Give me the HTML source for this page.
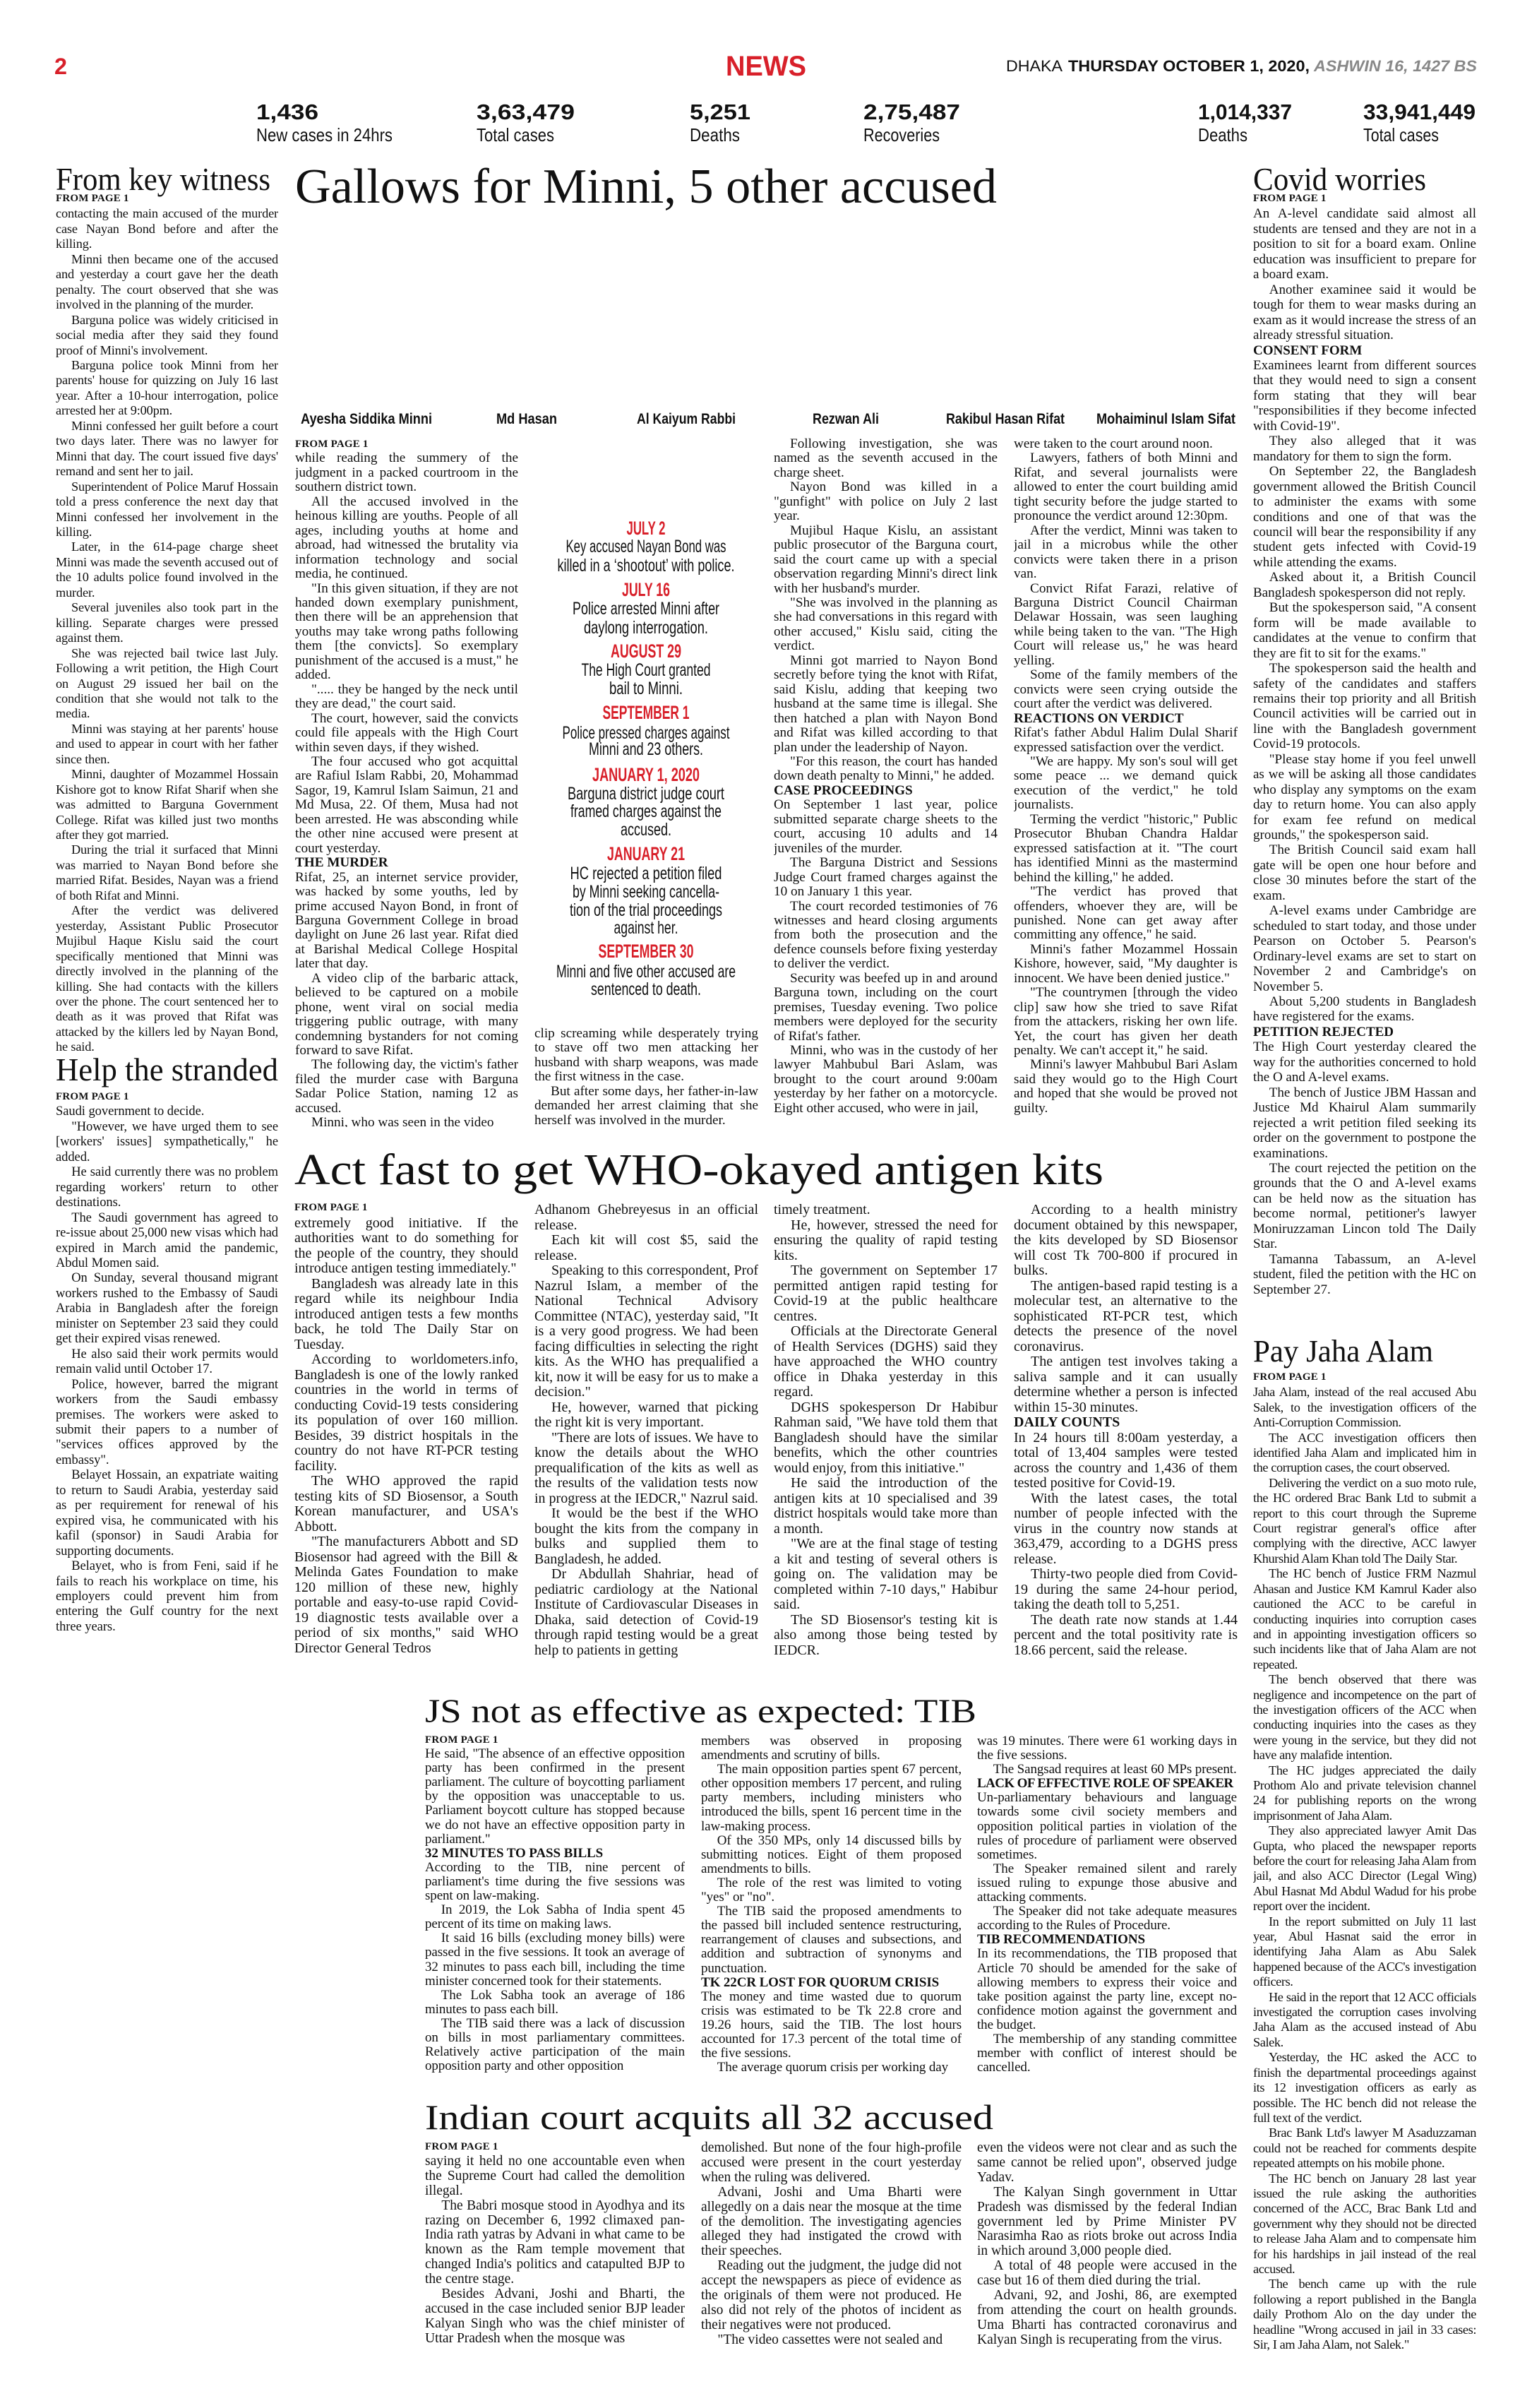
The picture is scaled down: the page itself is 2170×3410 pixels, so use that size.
<!DOCTYPE html>
<html><head><meta charset="utf-8">
<style>
html,body{margin:0;padding:0;background:#fff;}
body{width:2170px;height:3410px;position:relative;overflow:hidden;font-family:"Liberation Serif",serif;color:#111;}
.c{position:absolute;overflow:hidden;text-align:justify;}
.c p{margin:0;text-indent:1.2em;}
.c p.ni{text-indent:0;}
.c .fp{font-size:15px;font-weight:bold;text-indent:0;letter-spacing:0.2px;}
.c .sh{font-weight:bold;text-indent:0;text-align:left;}
.m{font-size:19.2px;line-height:20.45px;}
.l{font-size:18.3px;line-height:21.45px;letter-spacing:-0.15px;}
.l2{font-size:18.5px;line-height:21.45px;letter-spacing:-0.05px;}
.r{font-size:19px;line-height:21.45px;}
.r2{font-size:18.3px;line-height:21.4px;letter-spacing:-0.4px;}
.a{font-size:20px;line-height:21.5px;}
.j{font-size:19px;line-height:20.1px;letter-spacing:-0.1px;}
.i{font-size:19.5px;line-height:20.9px;}
svg{position:absolute;left:0;top:0;}
</style></head><body>

<svg width="2170" height="3410" viewBox="0 0 2170 3410">
<g font-family="Liberation Sans, sans-serif">
<text x="77" y="105" font-size="32" font-weight="bold" fill="#d8202a" textLength="18" lengthAdjust="spacingAndGlyphs">2</text>
<text x="1028" y="107" font-size="40" font-weight="bold" fill="#d8202a" textLength="114" lengthAdjust="spacingAndGlyphs">NEWS</text>
<text x="1425" y="101" font-size="22" fill="#111" textLength="80" lengthAdjust="spacingAndGlyphs">DHAKA</text>
<text x="1513" y="101" font-size="22" font-weight="bold" fill="#111" textLength="342" lengthAdjust="spacingAndGlyphs">THURSDAY OCTOBER 1, 2020,</text>
<text x="1861" y="101" font-size="22" font-weight="bold" font-style="italic" fill="#888" textLength="231" lengthAdjust="spacingAndGlyphs">ASHWIN 16, 1427 BS</text>

<g font-weight="bold" font-size="31" fill="#111">
<text x="363" y="169" textLength="88" lengthAdjust="spacingAndGlyphs">1,436</text>
<text x="675" y="169" textLength="139" lengthAdjust="spacingAndGlyphs">3,63,479</text>
<text x="977" y="169" textLength="86" lengthAdjust="spacingAndGlyphs">5,251</text>
<text x="1223" y="169" textLength="137" lengthAdjust="spacingAndGlyphs">2,75,487</text>
<text x="1697" y="169" textLength="133" lengthAdjust="spacingAndGlyphs">1,014,337</text>
<text x="1931" y="169" textLength="159" lengthAdjust="spacingAndGlyphs">33,941,449</text>
</g>
<g font-size="26" fill="#111">
<text x="363" y="200" textLength="193" lengthAdjust="spacingAndGlyphs">New cases in 24hrs</text>
<text x="675" y="200" textLength="110" lengthAdjust="spacingAndGlyphs">Total cases</text>
<text x="977" y="200" textLength="71" lengthAdjust="spacingAndGlyphs">Deaths</text>
<text x="1223" y="200" textLength="108" lengthAdjust="spacingAndGlyphs">Recoveries</text>
<text x="1697" y="200" textLength="70" lengthAdjust="spacingAndGlyphs">Deaths</text>
<text x="1931" y="200" textLength="107" lengthAdjust="spacingAndGlyphs">Total cases</text>
</g>

<g font-weight="bold" font-size="21" fill="#111">
<text x="426" y="600" textLength="186" lengthAdjust="spacingAndGlyphs">Ayesha Siddika Minni</text>
<text x="703" y="600" textLength="86" lengthAdjust="spacingAndGlyphs">Md Hasan</text>
<text x="902" y="600" textLength="140" lengthAdjust="spacingAndGlyphs">Al Kaiyum Rabbi</text>
<text x="1151" y="600" textLength="94" lengthAdjust="spacingAndGlyphs">Rezwan Ali</text>
<text x="1340" y="600" textLength="168" lengthAdjust="spacingAndGlyphs">Rakibul Hasan Rifat</text>
<text x="1553" y="600" textLength="197" lengthAdjust="spacingAndGlyphs">Mohaiminul Islam Sifat</text>
</g>

<g text-anchor="middle">
<g font-weight="bold" font-size="27" fill="#d8202a">
<text x="915" y="757" textLength="55" lengthAdjust="spacingAndGlyphs">JULY 2</text>
<text x="915" y="844" textLength="68" lengthAdjust="spacingAndGlyphs">JULY 16</text>
<text x="915" y="931" textLength="100" lengthAdjust="spacingAndGlyphs">AUGUST 29</text>
<text x="915" y="1018" textLength="123" lengthAdjust="spacingAndGlyphs">SEPTEMBER 1</text>
<text x="915" y="1106" textLength="152" lengthAdjust="spacingAndGlyphs">JANUARY 1, 2020</text>
<text x="915" y="1218" textLength="110" lengthAdjust="spacingAndGlyphs">JANUARY 21</text>
<text x="915" y="1356" textLength="135" lengthAdjust="spacingAndGlyphs">SEPTEMBER 30</text>
</g>
<g font-size="25" fill="#111">
<text x="915" y="782" textLength="227" lengthAdjust="spacingAndGlyphs">Key accused Nayan Bond was</text>
<text x="915" y="809" textLength="251" lengthAdjust="spacingAndGlyphs">killed in a ‘shootout’ with police.</text>
<text x="915" y="870" textLength="208" lengthAdjust="spacingAndGlyphs">Police arrested Minni after</text>
<text x="915" y="897" textLength="176" lengthAdjust="spacingAndGlyphs">daylong interrogation.</text>
<text x="915" y="957" textLength="183" lengthAdjust="spacingAndGlyphs">The High Court granted</text>
<text x="915" y="983" textLength="104" lengthAdjust="spacingAndGlyphs">bail to Minni.</text>
<text x="915" y="1046" textLength="237" lengthAdjust="spacingAndGlyphs">Police pressed charges against</text>
<text x="915" y="1069" textLength="162" lengthAdjust="spacingAndGlyphs">Minni and 23 others.</text>
<text x="915" y="1132" textLength="222" lengthAdjust="spacingAndGlyphs">Barguna district judge court</text>
<text x="915" y="1157" textLength="214" lengthAdjust="spacingAndGlyphs">framed charges against the</text>
<text x="915" y="1183" textLength="72" lengthAdjust="spacingAndGlyphs">accused.</text>
<text x="915" y="1245" textLength="215" lengthAdjust="spacingAndGlyphs">HC rejected a petition filed</text>
<text x="915" y="1271" textLength="208" lengthAdjust="spacingAndGlyphs">by Minni seeking cancella-</text>
<text x="915" y="1297" textLength="216" lengthAdjust="spacingAndGlyphs">tion of the trial proceedings</text>
<text x="915" y="1322" textLength="91" lengthAdjust="spacingAndGlyphs">against her.</text>
<text x="915" y="1384" textLength="254" lengthAdjust="spacingAndGlyphs">Minni and five other accused are</text>
<text x="915" y="1409" textLength="156" lengthAdjust="spacingAndGlyphs">sentenced to death.</text>
</g>
</g>
</g>

<g font-family="Liberation Serif, serif" fill="#111">
<text x="79" y="269" font-size="46" textLength="304" lengthAdjust="spacingAndGlyphs">From key witness</text>
<text x="418" y="287" font-size="70" textLength="994" lengthAdjust="spacingAndGlyphs">Gallows for Minni, 5 other accused</text>
<text x="1775" y="269" font-size="46" textLength="245" lengthAdjust="spacingAndGlyphs">Covid worries</text>
<text x="79" y="1530" font-size="46" textLength="315" lengthAdjust="spacingAndGlyphs">Help the stranded</text>
<text x="417" y="1677" font-size="62" textLength="1146" lengthAdjust="spacingAndGlyphs">Act fast to get WHO-okayed antigen kits</text>
<text x="1775" y="1928" font-size="44" textLength="255" lengthAdjust="spacingAndGlyphs">Pay Jaha Alam</text>
<text x="602" y="2439" font-size="48" textLength="781" lengthAdjust="spacingAndGlyphs">JS not as effective as expected: TIB</text>
<text x="602" y="3015" font-size="50" textLength="805" lengthAdjust="spacingAndGlyphs">Indian court acquits all 32 accused</text>
</g>
</svg>

<!-- Left column: From key witness -->
<div class="c l" style="left:79px;top:271px;width:315px;height:1222px;">
<p class="fp">FROM PAGE 1</p>
<p class="ni">contacting the main accused of the murder case Nayan Bond before and after the killing.</p>
<p>Minni then became one of the accused and yesterday a court gave her the death penalty. The court observed that she was involved in the planning of the murder.</p>
<p>Barguna police was widely criticised in social media after they said they found proof of Minni's involvement.</p>
<p>Barguna police took Minni from her parents' house for quizzing on July 16 last year. After a 10-hour interrogation, police arrested her at 9:00pm.</p>
<p>Minni confessed her guilt before a court two days later. There was no lawyer for Minni that day. The court issued five days' remand and sent her to jail.</p>
<p>Superintendent of Police Maruf Hossain told a press conference the next day that Minni confessed her involvement in the killing.</p>
<p>Later, in the 614-page charge sheet Minni was made the seventh accused out of the 10 adults police found involved in the murder.</p>
<p>Several juveniles also took part in the killing. Separate charges were pressed against them.</p>
<p>She was rejected bail twice last July. Following a writ petition, the High Court on August 29 issued her bail on the condition that she would not talk to the media.</p>
<p>Minni was staying at her parents' house and used to appear in court with her father since then.</p>
<p>Minni, daughter of Mozammel Hossain Kishore got to know Rifat Sharif when she was admitted to Barguna Government College. Rifat was killed just two months after they got married.</p>
<p>During the trial it surfaced that Minni was married to Nayan Bond before she married Rifat. Besides, Nayan was a friend of both Rifat and Minni.</p>
<p>After the verdict was delivered yesterday, Assistant Public Prosecutor Mujibul Haque Kislu said the court specifically mentioned that Minni was directly involved in the planning of the killing. She had contacts with the killers over the phone. The court sentenced her to death as it was proved that Rifat was attacked by the killers led by Nayan Bond, he said.</p>
</div>

<!-- Help the stranded -->
<div class="c l2" style="left:79px;top:1543px;width:315px;height:820px;">
<p class="fp">FROM PAGE 1</p>
<p class="ni">Saudi government to decide.</p>
<p>"However, we have urged them to see [workers' issues] sympathetically," he added.</p>
<p>He said currently there was no problem regarding workers' return to other destinations.</p>
<p>The Saudi government has agreed to re-issue about 25,000 new visas which had expired in March amid the pandemic, Abdul Momen said.</p>
<p>On Sunday, several thousand migrant workers rushed to the Embassy of Saudi Arabia in Bangladesh after the foreign minister on September 23 said they could get their expired visas renewed.</p>
<p>He also said their work permits would remain valid until October 17.</p>
<p>Police, however, barred the migrant workers from the Saudi embassy premises. The workers were asked to submit their papers to a number of "services offices approved by the embassy".</p>
<p>Belayet Hossain, an expatriate waiting to return to Saudi Arabia, yesterday said as per requirement for renewal of his expired visa, he communicated with his kafil (sponsor) in Saudi Arabia for supporting documents.</p>
<p>Belayet, who is from Feni, said if he fails to reach his workplace on time, his employers could prevent him from entering the Gulf country for the next three years.</p>
</div>

<!-- Main story columns -->
<div class="c m" style="left:418px;top:619px;width:316px;height:977px;">
<p class="fp">FROM PAGE 1</p>
<p class="ni">while reading the summery of the judgment in a packed courtroom in the southern district town.</p>
<p>All the accused involved in the heinous killing are youths. People of all ages, including youths at home and abroad, had witnessed the brutality via information technology and social media, he continued.</p>
<p>"In this given situation, if they are not handed down exemplary punishment, then there will be an apprehension that youths may take wrong paths following them [the convicts]. So exemplary punishment of the accused is a must," he added.</p>
<p>"..... they be hanged by the neck until they are dead," the court said.</p>
<p>The court, however, said the convicts could file appeals with the High Court within seven days, if they wished.</p>
<p>The four accused who got acquittal are Rafiul Islam Rabbi, 20, Mohammad Sagor, 19, Kamrul Islam Saimun, 21 and Md Musa, 22. Of them, Musa had not been arrested. He was absconding while the other nine accused were present at court yesterday.</p>
<p class="sh">THE MURDER</p>
<p class="ni">Rifat, 25, an internet service provider, was hacked by some youths, led by prime accused Nayon Bond, in front of Barguna Government College in broad daylight on June 26 last year. Rifat died at Barishal Medical College Hospital later that day.</p>
<p>A video clip of the barbaric attack, believed to be captured on a mobile phone, went viral on social media triggering public outrage, with many condemning bystanders for not coming forward to save Rifat.</p>
<p>The following day, the victim's father filed the murder case with Barguna Sadar Police Station, naming 12 as accused.</p>
<p>Minni, who was seen in the video</p>
</div>

<div class="c m" style="left:757px;top:1454px;width:317px;height:142px;">
<p class="ni">clip screaming while desperately trying to stave off two men attacking her husband with sharp weapons, was made the first witness in the case.</p>
<p>But after some days, her father-in-law demanded her arrest claiming that she herself was involved in the murder.</p>
</div>

<div class="c m" style="left:1096px;top:619px;width:317px;height:977px;">
<p>Following investigation, she was named as the seventh accused in the charge sheet.</p>
<p>Nayon Bond was killed in a "gunfight" with police on July 2 last year.</p>
<p>Mujibul Haque Kislu, an assistant public prosecutor of the Barguna court, said the court came up with a special observation regarding Minni's direct link with her husband's murder.</p>
<p>"She was involved in the planning as she had conversations in this regard with other accused," Kislu said, citing the verdict.</p>
<p>Minni got married to Nayon Bond secretly before tying the knot with Rifat, said Kislu, adding that keeping two husband at the same time is illegal. She then hatched a plan with Nayon Bond and Rifat was killed according to that plan under the leadership of Nayon.</p>
<p>"For this reason, the court has handed down death penalty to Minni," he added.</p>
<p class="sh">CASE PROCEEDINGS</p>
<p class="ni">On September 1 last year, police submitted separate charge sheets to the court, accusing 10 adults and 14 juveniles of the murder.</p>
<p>The Barguna District and Sessions Judge Court framed charges against the 10 on January 1 this year.</p>
<p>The court recorded testimonies of 76 witnesses and heard closing arguments from both the prosecution and the defence counsels before fixing yesterday to deliver the verdict.</p>
<p>Security was beefed up in and around Barguna town, including on the court premises, Tuesday evening. Two police members were deployed for the security of Rifat's father.</p>
<p>Minni, who was in the custody of her lawyer Mahbubul Bari Aslam, was brought to the court around 9:00am yesterday by her father on a motorcycle. Eight other accused, who were in jail,</p>
</div>

<div class="c m" style="left:1436px;top:619px;width:317px;height:977px;">
<p class="ni">were taken to the court around noon.</p>
<p>Lawyers, fathers of both Minni and Rifat, and several journalists were allowed to enter the court building amid tight security before the judge started to pronounce the verdict around 12:30pm.</p>
<p>After the verdict, Minni was taken to jail in a microbus while the other convicts were taken there in a prison van.</p>
<p>Convict Rifat Farazi, relative of Barguna District Council Chairman Delawar Hossain, was seen laughing while being taken to the van. "The High Court will release us," he was heard yelling.</p>
<p>Some of the family members of the convicts were seen crying outside the court after the verdict was delivered.</p>
<p class="sh">REACTIONS ON VERDICT</p>
<p class="ni">Rifat's father Abdul Halim Dulal Sharif expressed satisfaction over the verdict.</p>
<p>"We are happy. My son's soul will get some peace ... we demand quick execution of the verdict," he told journalists.</p>
<p>Terming the verdict "historic," Public Prosecutor Bhuban Chandra Haldar expressed satisfaction at it. "The court has identified Minni as the mastermind behind the killing," he added.</p>
<p>"The verdict has proved that offenders, whoever they are, will be punished. None can get away after committing any offence," he said.</p>
<p>Minni's father Mozammel Hossain Kishore, however, said, "My daughter is innocent. We have been denied justice."</p>
<p>"The countrymen [through the video clip] saw how she tried to save Rifat from the attackers, risking her own life. Yet, the court has given her death penalty. We can't accept it," he said.</p>
<p>Minni's lawyer Mahbubul Bari Aslam said they would go to the High Court and hoped that she would be proved not guilty.</p>
</div>

<!-- Right column: Covid worries + Pay Jaha Alam -->
<div class="c r" style="left:1775px;top:271px;width:316px;height:1612px;">
<p class="fp">FROM PAGE 1</p>
<p class="ni">An A-level candidate said almost all students are tensed and they are not in a position to sit for a board exam. Online education was insufficient to prepare for a board exam.</p>
<p>Another examinee said it would be tough for them to wear masks during an exam as it would increase the stress of an already stressful situation.</p>
<p class="sh">CONSENT FORM</p>
<p class="ni">Examinees learnt from different sources that they would need to sign a consent form stating that they will bear "responsibilities if they become infected with Covid-19".</p>
<p>They also alleged that it was mandatory for them to sign the form.</p>
<p>On September 22, the Bangladesh government allowed the British Council to administer the exams with some conditions and one of that was the council will bear the responsibility if any student gets infected with Covid-19 while attending the exams.</p>
<p>Asked about it, a British Council Bangladesh spokesperson did not reply.</p>
<p>But the spokesperson said, "A consent form will be made available to candidates at the venue to confirm that they are fit to sit for the exams."</p>
<p>The spokesperson said the health and safety of the candidates and staffers remains their top priority and all British Council activities will be carried out in line with the Bangladesh government Covid-19 protocols.</p>
<p>"Please stay home if you feel unwell as we will be asking all those candidates who display any symptoms on the exam day to return home. You can also apply for exam fee refund on medical grounds," the spokesperson said.</p>
<p>The British Council said exam hall gate will be open one hour before and close 30 minutes before the start of the exam.</p>
<p>A-level exams under Cambridge are scheduled to start today, and those under Pearson on October 5. Pearson's Ordinary-level exams are set to start on November 2 and Cambridge's on November 5.</p>
<p>About 5,200 students in Bangladesh have registered for the exams.</p>
<p class="sh">PETITION REJECTED</p>
<p class="ni">The High Court yesterday cleared the way for the authorities concerned to hold the O and A-level exams.</p>
<p>The bench of Justice JBM Hassan and Justice Md Khairul Alam summarily rejected a writ petition filed seeking its order on the government to postpone the examinations.</p>
<p>The court rejected the petition on the grounds that the O and A-level exams can be held now as the situation has become normal, petitioner's lawyer Moniruzzaman Lincon told The Daily Star.</p>
<p>Tamanna Tabassum, an A-level student, filed the petition with the HC on September 27.</p>
</div>

<div class="c r2" style="left:1775px;top:1940px;width:316px;height:1395px;">
<p class="fp">FROM PAGE 1</p>
<p class="ni">Jaha Alam, instead of the real accused Abu Salek, to the investigation officers of the Anti-Corruption Commission.</p>
<p>The ACC investigation officers then identified Jaha Alam and implicated him in the corruption cases, the court observed.</p>
<p>Delivering the verdict on a suo moto rule, the HC ordered Brac Bank Ltd to submit a report to this court through the Supreme Court registrar general's office after complying with the directive, ACC lawyer Khurshid Alam Khan told The Daily Star.</p>
<p>The HC bench of Justice FRM Nazmul Ahasan and Justice KM Kamrul Kader also cautioned the ACC to be careful in conducting inquiries into corruption cases and in appointing investigation officers so such incidents like that of Jaha Alam are not repeated.</p>
<p>The bench observed that there was negligence and incompetence on the part of the investigation officers of the ACC when conducting inquiries into the cases as they were young in the service, but they did not have any malafide intention.</p>
<p>The HC judges appreciated the daily Prothom Alo and private television channel 24 for publishing reports on the wrong imprisonment of Jaha Alam.</p>
<p>They also appreciated lawyer Amit Das Gupta, who placed the newspaper reports before the court for releasing Jaha Alam from jail, and also ACC Director (Legal Wing) Abul Hasnat Md Abdul Wadud for his probe report over the incident.</p>
<p>In the report submitted on July 11 last year, Abul Hasnat said the error in identifying Jaha Alam as Abu Salek happened because of the ACC's investigation officers.</p>
<p>He said in the report that 12 ACC officials investigated the corruption cases involving Jaha Alam as the accused instead of Abu Salek.</p>
<p>Yesterday, the HC asked the ACC to finish the departmental proceedings against its 12 investigation officers as early as possible. The HC bench did not release the full text of the verdict.</p>
<p>Brac Bank Ltd's lawyer M Asaduzzaman could not be reached for comments despite repeated attempts on his mobile phone.</p>
<p>The HC bench on January 28 last year issued the rule asking the authorities concerned of the ACC, Brac Bank Ltd and government why they should not be directed to release Jaha Alam and to compensate him for his hardships in jail instead of the real accused.</p>
<p>The bench came up with the rule following a report published in the Bangla daily Prothom Alo on the day under the headline "Wrong accused in jail in 33 cases: Sir, I am Jaha Alam, not Salek."</p>
</div>

<!-- Act fast columns -->
<div class="c a" style="left:417px;top:1700px;width:317px;height:670px;">
<p class="fp">FROM PAGE 1</p>
<p class="ni">extremely good initiative. If the authorities want to do something for the people of the country, they should introduce antigen testing immediately."</p>
<p>Bangladesh was already late in this regard while its neighbour India introduced antigen tests a few months back, he told The Daily Star on Tuesday.</p>
<p>According to worldometers.info, Bangladesh is one of the lowly ranked countries in the world in terms of conducting Covid-19 tests considering its population of over 160 million. Besides, 39 district hospitals in the country do not have RT-PCR testing facility.</p>
<p>The WHO approved the rapid testing kits of SD Biosensor, a South Korean manufacturer, and USA's Abbott.</p>
<p>"The manufacturers Abbott and SD Biosensor had agreed with the Bill &amp; Melinda Gates Foundation to make 120 million of these new, highly portable and easy-to-use rapid Covid-19 diagnostic tests available over a period of six months," said WHO Director General Tedros</p>
</div>
<div class="c a" style="left:757px;top:1703px;width:317px;height:667px;">
<p class="ni">Adhanom Ghebreyesus in an official release.</p>
<p>Each kit will cost $5, said the release.</p>
<p>Speaking to this correspondent, Prof Nazrul Islam, a member of the National Technical Advisory Committee (NTAC), yesterday said, "It is a very good progress. We had been facing difficulties in selecting the right kits. As the WHO has prequalified a kit, now it will be easy for us to make a decision."</p>
<p>He, however, warned that picking the right kit is very important.</p>
<p>"There are lots of issues. We have to know the details about the WHO prequalification of the kits as well as the results of the validation tests now in progress at the IEDCR," Nazrul said.</p>
<p>It would be the best if the WHO bought the kits from the company in bulks and supplied them to Bangladesh, he added.</p>
<p>Dr Abdullah Shahriar, head of pediatric cardiology at the National Institute of Cardiovascular Diseases in Dhaka, said detection of Covid-19 through rapid testing would be a great help to patients in getting</p>
</div>
<div class="c a" style="left:1096px;top:1703px;width:317px;height:667px;">
<p class="ni">timely treatment.</p>
<p>He, however, stressed the need for ensuring the quality of rapid testing kits.</p>
<p>The government on September 17 permitted antigen rapid testing for Covid-19 at the public healthcare centres.</p>
<p>Officials at the Directorate General of Health Services (DGHS) said they have approached the WHO country office in Dhaka yesterday in this regard.</p>
<p>DGHS spokesperson Dr Habibur Rahman said, "We have told them that Bangladesh should have the similar benefits, which the other countries would enjoy, from this initiative."</p>
<p>He said the introduction of the antigen kits at 10 specialised and 39 district hospitals would take more than a month.</p>
<p>"We are at the final stage of testing a kit and testing of several others is going on. The validation may be completed within 7-10 days," Habibur said.</p>
<p>The SD Biosensor's testing kit is also among those being tested by IEDCR.</p>
</div>
<div class="c a" style="left:1436px;top:1703px;width:317px;height:667px;">
<p>According to a health ministry document obtained by this newspaper, the kits developed by SD Biosensor will cost Tk 700-800 if procured in bulks.</p>
<p>The antigen-based rapid testing is a molecular test, an alternative to the sophisticated RT-PCR test, which detects the presence of the novel coronavirus.</p>
<p>The antigen test involves taking a saliva sample and it can usually determine whether a person is infected within 15-30 minutes.</p>
<p class="sh">DAILY COUNTS</p>
<p class="ni">In 24 hours till 8:00am yesterday, a total of 13,404 samples were tested across the country and 1,436 of them tested positive for Covid-19.</p>
<p>With the latest cases, the total number of people infected with the virus in the country now stands at 363,479, according to a DGHS press release.</p>
<p>Thirty-two people died from Covid-19 during the same 24-hour period, taking the death toll to 5,251.</p>
<p>The death rate now stands at 1.44 percent and the total positivity rate is 18.66 percent, said the release.</p>
</div>

<!-- JS columns -->
<div class="c j" style="left:602px;top:2454px;width:368px;height:492px;">
<p class="fp">FROM PAGE 1</p>
<p class="ni">He said, "The absence of an effective opposition party has been confirmed in the present parliament. The culture of boycotting parliament by the opposition was unacceptable to us. Parliament boycott culture has stopped because we do not have an effective opposition party in parliament."</p>
<p class="sh">32 MINUTES TO PASS BILLS</p>
<p class="ni">According to the TIB, nine percent of parliament's time during the five sessions was spent on law-making.</p>
<p>In 2019, the Lok Sabha of India spent 45 percent of its time on making laws.</p>
<p>It said 16 bills (excluding money bills) were passed in the five sessions. It took an average of 32 minutes to pass each bill, including the time minister concerned took for their statements.</p>
<p>The Lok Sabha took an average of 186 minutes to pass each bill.</p>
<p>The TIB said there was a lack of discussion on bills in most parliamentary committees. Relatively active participation of the main opposition party and other opposition</p>
</div>
<div class="c j" style="left:993px;top:2456px;width:369px;height:490px;">
<p class="ni">members was observed in proposing amendments and scrutiny of bills.</p>
<p>The main opposition parties spent 67 percent, other opposition members 17 percent, and ruling party members, including ministers who introduced the bills, spent 16 percent time in the law-making process.</p>
<p>Of the 350 MPs, only 14 discussed bills by submitting notices. Eight of them proposed amendments to bills.</p>
<p>The role of the rest was limited to voting "yes" or "no".</p>
<p>The TIB said the proposed amendments to the passed bill included sentence restructuring, rearrangement of clauses and subsections, and addition and subtraction of synonyms and punctuation.</p>
<p class="sh">TK 22CR LOST FOR QUORUM CRISIS</p>
<p class="ni">The money and time wasted due to quorum crisis was estimated to be Tk 22.8 crore and 19.26 hours, said the TIB. The lost hours accounted for 17.3 percent of the total time of the five sessions.</p>
<p>The average quorum crisis per working day</p>
</div>
<div class="c j" style="left:1384px;top:2456px;width:368px;height:490px;">
<p class="ni">was 19 minutes. There were 61 working days in the five sessions.</p>
<p>The Sangsad requires at least 60 MPs present.</p>
<p class="sh" style="letter-spacing:-0.6px">LACK OF EFFECTIVE ROLE OF SPEAKER</p>
<p class="ni">Un-parliamentary behaviours and language towards some civil society members and opposition political parties in violation of the rules of procedure of parliament were observed sometimes.</p>
<p>The Speaker remained silent and rarely issued ruling to expunge those abusive and attacking comments.</p>
<p>The Speaker did not take adequate measures according to the Rules of Procedure.</p>
<p class="sh">TIB RECOMMENDATIONS</p>
<p class="ni">In its recommendations, the TIB proposed that Article 70 should be amended for the sake of allowing members to express their voice and take position against the party line, except no-confidence motion against the government and the budget.</p>
<p>The membership of any standing committee member with conflict of interest should be cancelled.</p>
</div>

<!-- Indian court columns -->
<div class="c i" style="left:602px;top:3030px;width:368px;height:302px;">
<p class="fp">FROM PAGE 1</p>
<p class="ni">saying it held no one accountable even when the Supreme Court had called the demolition illegal.</p>
<p>The Babri mosque stood in Ayodhya and its razing on December 6, 1992 climaxed pan-India rath yatras by Advani in what came to be known as the Ram temple movement that changed India's politics and catapulted BJP to the centre stage.</p>
<p>Besides Advani, Joshi and Bharti, the accused in the case included senior BJP leader Kalyan Singh who was the chief minister of Uttar Pradesh when the mosque was</p>
</div>
<div class="c i" style="left:993px;top:3032px;width:369px;height:300px;">
<p class="ni">demolished. But none of the four high-profile accused were present in the court yesterday when the ruling was delivered.</p>
<p>Advani, Joshi and Uma Bharti were allegedly on a dais near the mosque at the time of the demolition. The investigating agencies alleged they had instigated the crowd with their speeches.</p>
<p>Reading out the judgment, the judge did not accept the newspapers as piece of evidence as the originals of them were not produced. He also did not rely of the photos of incident as their negatives were not produced.</p>
<p>"The video cassettes were not sealed and</p>
</div>
<div class="c i" style="left:1384px;top:3032px;width:368px;height:300px;">
<p class="ni">even the videos were not clear and as such the same cannot be relied upon", observed judge Yadav.</p>
<p>The Kalyan Singh government in Uttar Pradesh was dismissed by the federal Indian government led by Prime Minister PV Narasimha Rao as riots broke out across India in which around 3,000 people died.</p>
<p>A total of 48 people were accused in the case but 16 of them died during the trial.</p>
<p>Advani, 92, and Joshi, 86, are exempted from attending the court on health grounds. Uma Bharti has contracted coronavirus and Kalyan Singh is recuperating from the virus.</p>
</div>

</body></html>
